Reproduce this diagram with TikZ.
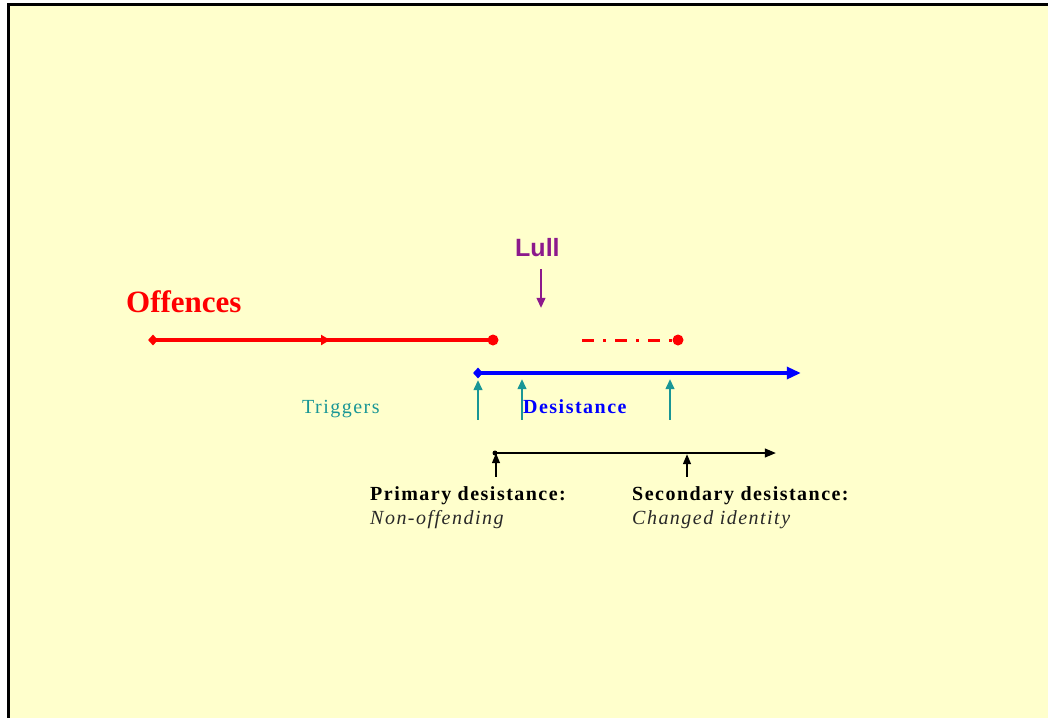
\documentclass[tikz,border=0pt]{standalone}
\usepackage{fontspec}
\setmainfont{Liberation Serif}
\newfontfamily\spaced[LetterSpace=7.4]{Liberation Serif}
\newfontfamily\headsans{Liberation Sans}
\usetikzlibrary{arrows.meta,shapes.geometric}

\definecolor{paper}{RGB}{255,255,204}
\definecolor{offred}{RGB}{255,0,0}
\definecolor{desblue}{RGB}{0,0,255}
\definecolor{trigteal}{RGB}{25,150,150}
\definecolor{lullpurple}{RGB}{140,25,140}

\tikzset{
  endpt/.style={circle,fill=#1,inner sep=0pt,minimum size=11pt},
  startpt/.style={diamond,fill=#1,inner sep=0pt,minimum width=10pt,minimum height=11pt},
  smalldot/.style={circle,fill=black,inner sep=0pt,minimum size=5pt},
  anchorpt/.style={inner sep=0pt,minimum size=0pt},
  thickline/.style={line width=3.2pt},
  trigger/.style={trigteal,line width=1.4pt,-{Triangle[length=10pt,width=9pt]}},
  stage/.style={black,line width=1.4pt,-{Triangle[length=10pt,width=8pt]}},
  label/.style={inner sep=0pt,anchor=base west}
}

\begin{document}
\begin{tikzpicture}[x=1pt,y=-1pt]
  \useasboundingbox (0,0) rectangle (1048,718);
  % page and frame
  \fill[white] (0,0) rectangle (1048,718);
  \fill[paper] (9,5) rectangle (1048,718);
  \fill[black] (7,3) rectangle (9.6,718);
  \fill[black] (7,3) rectangle (1048,5.6);

  % offences line, with a direction mark half way
  \node[startpt=offred] (offStart) at (153,340) {};
  \node[anchorpt] (offMid) at (330,340) {};
  \node[endpt=offred] (offEnd) at (493,340) {};
  \draw[offred,thickline] (offStart.center) -- (offEnd.center);
  \draw[offred,thickline,-{Triangle[length=9pt,width=10pt]}] (offStart.center) -- (offMid.center);

  % resumed offending after the lull
  \node[anchorpt] (relStart) at (582,340) {};
  \node[endpt=offred] (relEnd) at (678,340) {};
  \draw[offred,line width=3pt,dash pattern=on 12pt off 9pt on 3pt off 9pt] (relStart) -- (relEnd.center);

  % lull
  \node[label,text=lullpurple,font=\headsans\bfseries\fontsize{25}{30}\selectfont] (lull) at (515,256) {Lull};
  \node[anchorpt] (lullTop) at (541,269) {};
  \node[anchorpt] (lullTip) at (541,308) {};
  \draw[lullpurple,line width=1.2pt,-{Triangle[length=10pt,width=9pt]}] (lullTop) -- (lullTip);

  % desistance line
  \node[startpt=desblue] (desStart) at (478,373) {};
  \node[anchorpt] (desEnd) at (801,373) {};
  \draw[desblue,thickline,-{Triangle[length=14pt,width=12pt]}] (desStart.center) -- (desEnd);

  % triggers
  \node[anchorpt] (trigA0) at (478,420) {};
  \node[anchorpt] (trigA1) at (478,380) {};
  \node[anchorpt] (trigB0) at (522,420) {};
  \node[anchorpt] (trigB1) at (522,379) {};
  \node[anchorpt] (trigC0) at (670,420) {};
  \node[anchorpt] (trigC1) at (670,379) {};
  \draw[trigger] (trigA0) -- (trigA1);
  \draw[trigger] (trigB0) -- (trigB1);
  \draw[trigger] (trigC0) -- (trigC1);

  % primary / secondary timeline
  \node[smalldot] (stageStart) at (495,453) {};
  \node[anchorpt] (stageEnd) at (776,453) {};
  \draw[black,line width=1.2pt,-{Triangle[length=11pt,width=9pt]}] (stageStart.center) -- (stageEnd);
  \node[anchorpt] (primA) at (496,477) {};
  \node[anchorpt] (primB) at (496,453) {};
  \node[anchorpt] (secA) at (687,477) {};
  \node[anchorpt] (secB) at (687,454) {};
  \draw[stage] (primA) -- (primB);
  \draw[stage] (secA) -- (secB);

  % texts
  \node[label,text=offred,font=\bfseries\fontsize{31}{37}\selectfont] (offences) at (126,312) {Offences};
  \node[label,text=trigteal,font=\spaced\fontsize{20}{24}\selectfont] (triggers) at (302,413) {Triggers};
  \node[label,text=desblue,font=\spaced\bfseries\fontsize{20}{24}\selectfont] (desistance) at (523,413) {Desistance};
  \node[label,font=\spaced\bfseries\fontsize{20}{24}\selectfont] (primary) at (370,500) {Primary desistance:};
  \node[label,font=\spaced\itshape\fontsize{20}{24}\selectfont,text={rgb,255:red,40;green,40;blue,40}] (nonoff) at (370,524) {Non-offending};
  \node[label,font=\spaced\bfseries\fontsize{20}{24}\selectfont] (secondary) at (632,500) {Secondary desistance:};
  \node[label,font=\spaced\itshape\fontsize{20}{24}\selectfont,text={rgb,255:red,40;green,40;blue,40}] (changed) at (632,524) {Changed identity};
\end{tikzpicture}
\end{document}
